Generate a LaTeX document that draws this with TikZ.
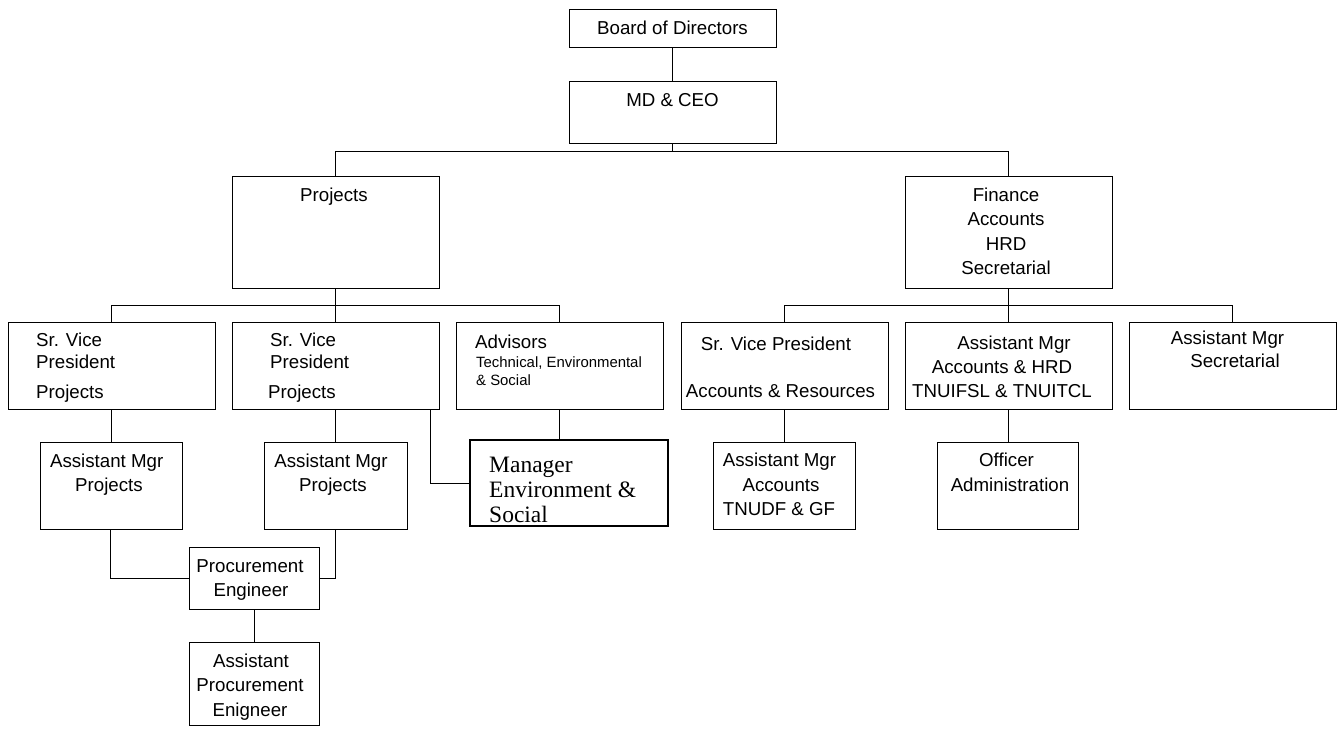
\documentclass[tikz,border=0pt]{standalone}
\usepackage{fontspec}
\setmainfont{Liberation Sans}
\newfontfamily\tnr{Liberation Serif}
\usetikzlibrary{calc}
\begin{document}
\begin{tikzpicture}[x=1pt,y=-1pt,
  box/.style={draw, line width=1pt, inner sep=0pt, outer sep=0pt, rectangle},
  lbl/.style={inner sep=0pt, anchor=base, font=\fontsize{18.7}{22}\selectfont},
  lbll/.style={lbl, anchor=base west},
  smalltxt/.style={inner sep=0pt, anchor=base west, font=\fontsize{14.9}{18}\selectfont},
  seriftxt/.style={inner sep=0pt, anchor=base west, font=\tnr\fontsize{23.5}{26}\selectfont},
  conn/.style={draw, line width=1pt}]
\useasboundingbox (0,0) rectangle (1340,728);

% boxes
\node[box, minimum width=207pt, minimum height=38pt] (board) at (672.5,28) {};
\node[box, minimum width=207pt, minimum height=62pt] (md) at (672.5,112) {};
\node[box, minimum width=207pt, minimum height=112pt] (proj) at (335.5,232) {};
\node[box, minimum width=207pt, minimum height=112pt] (fin) at (1008.5,232) {};
\node[box, minimum width=207pt, minimum height=87pt] (svpa) at (111.5,365.5) {};
\node[box, minimum width=207pt, minimum height=87pt] (svpb) at (335.5,365.5) {};
\node[box, minimum width=207pt, minimum height=87pt] (adv) at (559.5,365.5) {};
\node[box, minimum width=207pt, minimum height=87pt] (svpar) at (784.5,365.5) {};
\node[box, minimum width=207pt, minimum height=87pt] (amah) at (1008.5,365.5) {};
\node[box, minimum width=207pt, minimum height=87pt] (sec) at (1232.5,365.5) {};
\node[box, minimum width=142pt, minimum height=87pt] (ampa) at (111,485.5) {};
\node[box, minimum width=143pt, minimum height=87pt] (ampb) at (335.5,485.5) {};
\node[box, line width=1.6pt, minimum width=198pt, minimum height=86pt] (mgr) at (569,483) {};
\node[box, minimum width=142pt, minimum height=87pt] (ama) at (784,485.5) {};
\node[box, minimum width=141pt, minimum height=87pt] (oa) at (1007.5,485.5) {};
\node[box, minimum width=130pt, minimum height=62pt] (pe) at (254,578) {};
\node[box, minimum width=130pt, minimum height=83pt] (ape) at (254,683.5) {};

% texts
\node[lbl] (tboard) at (672.5,34) {Board of Directors};
\node[lbl] (tmd) at (672.5,106) {MD \& CEO};
\node[lbl] (tproj) at (334,201) {Projects};
\node[lbl] (tfin1) at (1006,201) {Finance};
\node[lbl] (tfin2) at (1006,225.5) {Accounts};
\node[lbl] (tfin3) at (1006,250) {HRD};
\node[lbl] (tfin4) at (1006,274.5) {Secretarial};

\node[lbll] (tsa1) at (36,346) {Sr. Vice};
\node[lbll] (tsa2) at (36,368) {President};
\node[lbll] (tsa3) at (36,398) {Projects};
\node[lbll] (tsb1) at (270,346) {Sr. Vice};
\node[lbll] (tsb2) at (270,368) {President};
\node[lbll] (tsb3) at (268,398) {Projects};

\node[lbll] (tadv1) at (475,348) {Advisors};
\node[smalltxt] (tadv2) at (476,367) {Technical, Environmental};
\node[smalltxt] (tadv3) at (476,385) {\& Social};

\node[lbl] (tar1) at (776,350) {Sr. Vice President};
\node[lbl] (tar2) at (780.5,397) {Accounts \& Resources};

\node[lbl] (tah1) at (1014,349) {Assistant Mgr};
\node[lbl] (tah2) at (1002,373) {Accounts \& HRD};
\node[lbl] (tah3) at (1002,397) {TNUIFSL \& TNUITCL};

\node[lbl] (tsec1) at (1227.5,344) {Assistant Mgr};
\node[lbl] (tsec2) at (1235,367) {Secretarial};

\node[lbl] (tpa1) at (106.7,467) {Assistant Mgr};
\node[lbl] (tpa2) at (109,491) {Projects};
\node[lbl] (tpb1) at (331,467) {Assistant Mgr};
\node[lbl] (tpb2) at (333,491) {Projects};

\node[seriftxt] (tm1) at (489,472) {Manager};
\node[seriftxt] (tm2) at (489,497) {Environment \&};
\node[seriftxt] (tm3) at (489,522) {Social};

\node[lbl] (ta1) at (779.5,466) {Assistant Mgr};
\node[lbl] (ta2) at (781,491) {Accounts};
\node[lbl] (ta3) at (779,515) {TNUDF \& GF};

\node[lbl] (to1) at (1006.5,466) {Officer};
\node[lbl] (to2) at (1010,491) {Administration};

\node[lbl] (tpe1) at (250,572) {Procurement};
\node[lbl] (tpe2) at (251,596) {Engineer};

\node[lbl] (tape1) at (251,667) {Assistant};
\node[lbl] (tape2) at (250,691) {Procurement};
\node[lbl] (tape3) at (250,716) {Enigneer};

% bus coordinates
\coordinate (bus1) at (0,151);
\coordinate (bus2) at (0,305);

% connectors
\draw[conn] (board.south) -- (md.north);
\draw[conn] (md.south) -- (md.south |- bus1);
\draw[conn] (proj.north) -- (proj.north |- bus1) -- (fin.north |- bus1) -- (fin.north);

\draw[conn] (proj.south) -- (proj.south |- bus2);
\draw[conn] (svpa.north) -- (svpa.north |- bus2) -- (adv.north |- bus2) -- (adv.north);
\draw[conn] (svpb.north) -- (svpb.north |- bus2);

\draw[conn] (fin.south) -- (fin.south |- bus2);
\draw[conn] (svpar.north) -- (svpar.north |- bus2) -- (sec.north |- bus2) -- (sec.north);
\draw[conn] (amah.north) -- (amah.north |- bus2);

\draw[conn] (svpa.south) -- (svpa.south |- ampa.north);
\draw[conn] (svpb.south) -- (svpb.south |- ampb.north);
\draw[conn] ([xshift=-9pt]svpb.south east) |- (mgr.west);
\draw[conn] (adv.south) -- (adv.south |- mgr.north);
\draw[conn] ([xshift=-1pt]ampa.south) |- (pe.west);
\draw[conn] (ampb.south) |- (pe.east);
\draw[conn] (pe.south) -- (ape.north);
\draw[conn] (svpar.south) -- (svpar.south |- ama.north);
\draw[conn] (amah.south) -- (amah.south |- oa.north);
\end{tikzpicture}
\end{document}
